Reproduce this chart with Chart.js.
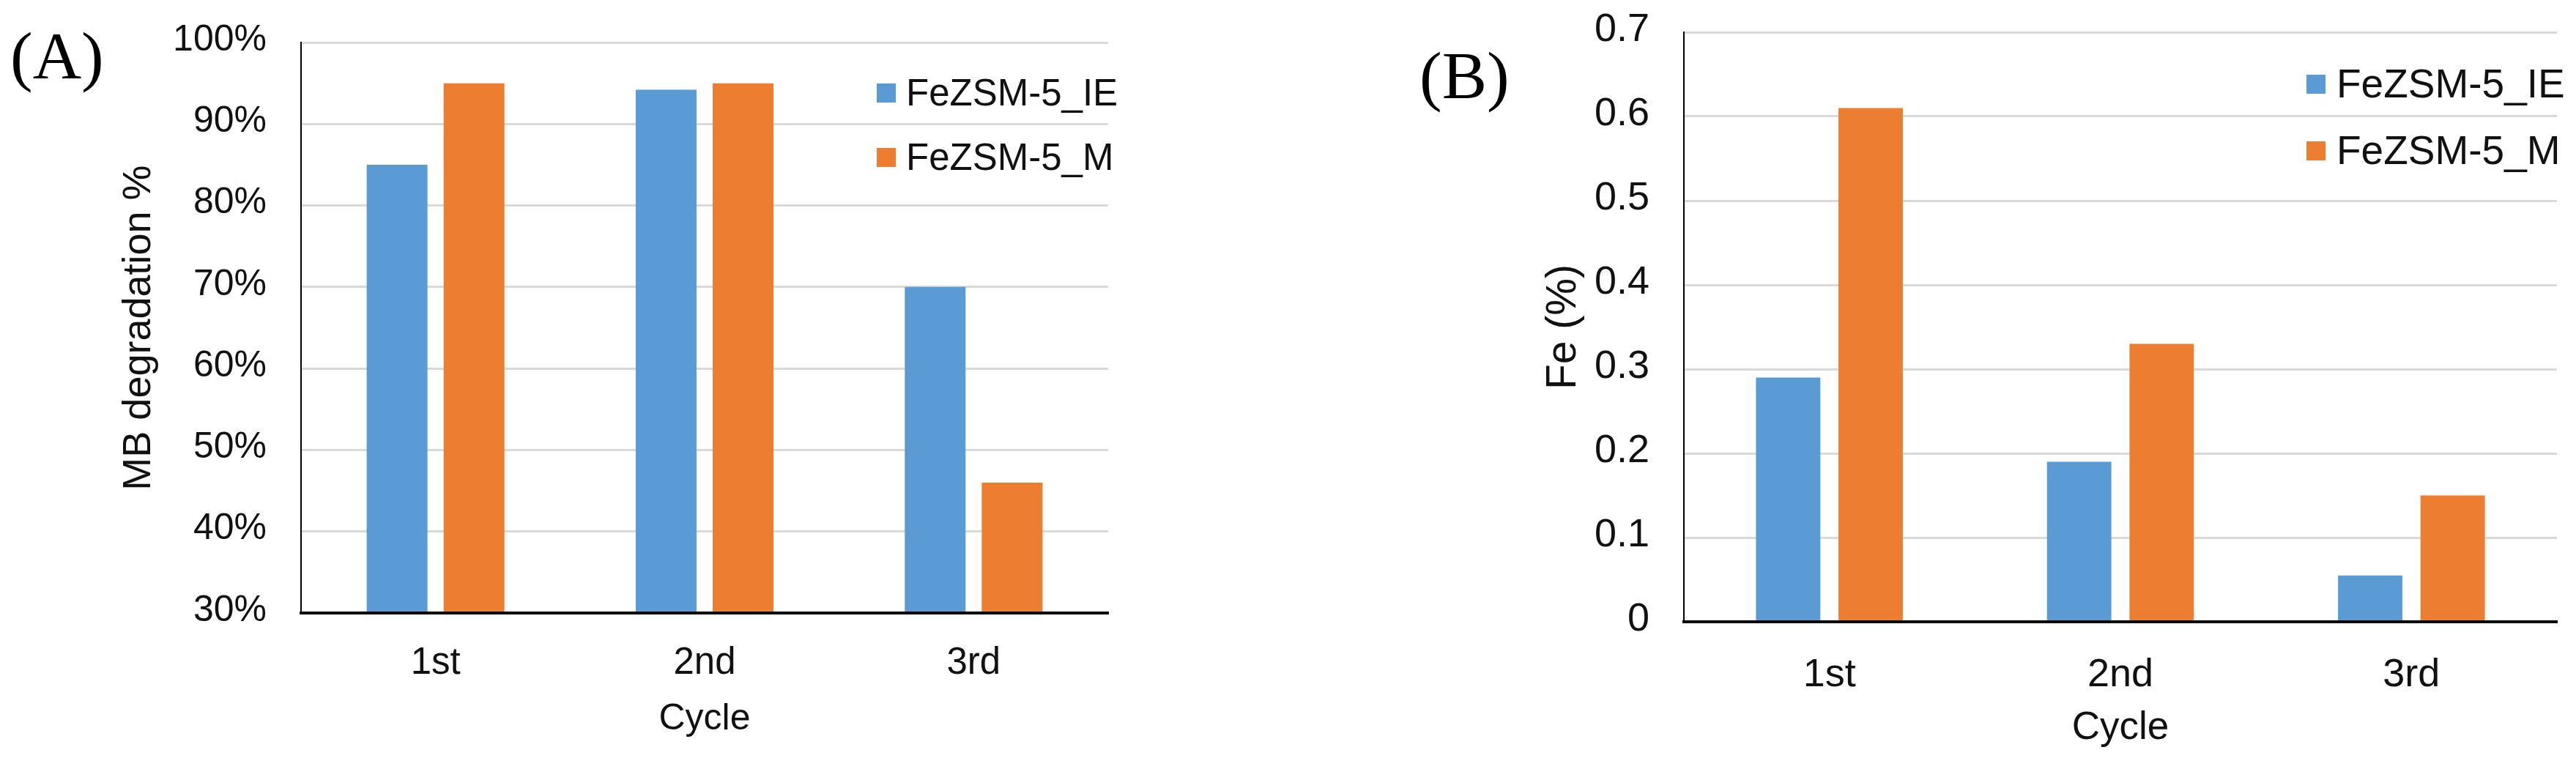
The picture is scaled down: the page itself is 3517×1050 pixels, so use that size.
<!DOCTYPE html>
<html>
<head>
<meta charset="utf-8">
<script src="https://cdn.jsdelivr.net/npm/chart.js@4.4.1/dist/chart.umd.min.js"></script>
<style>
html, body { margin: 0; padding: 0; background: #fff; }
body { width: 3517px; height: 1050px; position: relative; overflow: hidden; }
.panel { position: absolute; top: 0; height: 1050px; }
#panelA { left: 0; width: 1760px; }
#panelB { left: 1760px; width: 1757px; }
</style>
</head>
<body>
<div class="panel" id="panelA"><canvas id="chartA"></canvas></div>
<div class="panel" id="panelB"><canvas id="chartB"></canvas></div>
<script>
const cycles = ['1st', '2nd', '3rd'];
const seriesNames = ['FeZSM-5_IE', 'FeZSM-5_M'];

const degradationIE = [85, 94.2, 70];
const degradationM = [95, 95, 46];
const degradationTicks = ['30%', '40%', '50%', '60%', '70%', '80%', '90%', '100%'];

const ironIE = [0.29, 0.19, 0.055];
const ironM = [0.61, 0.33, 0.15];
const ironTicks = ['0', '0.1', '0.2', '0.3', '0.4', '0.5', '0.6', '0.7'];

const BLUE = '#5B9BD5';
const ORANGE = '#ED7D31';
const SANS = "'Liberation Sans', Arial, sans-serif";
const SERIF = "'Liberation Serif', 'Times New Roman', serif";

// panel A's axis text is visibly condensed in the original; use a narrow face when there is one
function hasFont(name) {
    const ctx = document.createElement('canvas').getContext('2d');
    const sample = '100% 1st Cycle 0.7';
    ctx.font = '40px monospace';
    const base = ctx.measureText(sample).width;
    ctx.font = `40px '${name}', monospace`;
    return ctx.measureText(sample).width !== base;
}
const hasNarrow = hasFont('Liberation Sans Narrow');
const NARROW = hasNarrow ? "'Liberation Sans Narrow', " + SANS : SANS;
const narrowSize = (size) => hasNarrow ? size : Math.round(size * 0.9);

const floatingLegend = {
    id: 'floatingLegend',
    afterDraw(chart, args, opts) {
        const ctx = chart.ctx;
        ctx.save();
        ctx.font = `${opts.size}px ${SANS}`;
        ctx.textBaseline = 'middle';
        chart.data.datasets.forEach((ds, i) => {
            const y = opts.y + i * opts.rowGap;
            ctx.fillStyle = ds.backgroundColor;
            ctx.fillRect(opts.x, y - opts.box / 2, opts.box, opts.box);
            ctx.fillStyle = '#111';
            ctx.fillText(ds.label, opts.x + opts.box + opts.gap, y + 3);
        });
        ctx.restore();
    }
};

const panelTag = {
    id: 'panelTag',
    afterDraw(chart, args, opts) {
        const ctx = chart.ctx;
        ctx.save();
        ctx.font = `${opts.size}px ${SERIF}`;
        ctx.fillStyle = '#000';
        ctx.textBaseline = 'alphabetic';
        ctx.fillText(opts.text, opts.x, opts.y);
        ctx.restore();
    }
};

function makeChart(canvasId, cfg) {
    return new Chart(document.getElementById(canvasId), {
        type: 'bar',
        data: {
            labels: cycles,
            datasets: [
                { label: seriesNames[0], data: cfg.ie, backgroundColor: BLUE },
                { label: seriesNames[1], data: cfg.m, backgroundColor: ORANGE }
            ]
        },
        options: {
            responsive: true,
            maintainAspectRatio: false,
            animation: false,
            categoryPercentage: cfg.catPct,
            barPercentage: cfg.barPct,
            layout: { padding: { left: 0, top: cfg.top, right: cfg.right, bottom: 0 } },
            plugins: {
                legend: { display: false },
                tooltip: { enabled: false },
                floatingLegend: cfg.legend,
                panelTag: cfg.tag
            },
            scales: {
                x: {
                    grid: { display: false },
                    border: { color: '#000', width: 4, z: 1 },
                    ticks: {
                        color: '#111',
                        padding: cfg.xTickPad,
                        font: { family: cfg.axisFont, size: cfg.xTickSize }
                    },
                    title: {
                        display: true,
                        text: 'Cycle',
                        color: '#111',
                        padding: { top: 0, bottom: cfg.xTitlePad },
                        font: { family: cfg.axisFont, size: cfg.xTitleSize }
                    },
                    afterFit(scale) {
                        scale.height = cfg.xHeight;
                    }
                },
                y: {
                    min: cfg.min,
                    max: cfg.max,
                    grid: { color: '#D9D9D9', lineWidth: 3, drawTicks: false },
                    border: { color: '#000', width: 2 },
                    ticks: {
                        stepSize: cfg.step,
                        color: '#111',
                        padding: 47,
                        labelOffset: -3,
                        font: { family: cfg.axisFont, size: cfg.yTickSize },
                        callback(value, index) {
                            return cfg.tickLabels[index];
                        }
                    },
                    title: {
                        display: true,
                        text: cfg.yTitle,
                        color: '#111',
                        padding: { top: cfg.yTitlePad, bottom: 0 },
                        font: { family: SANS, size: cfg.yTitleSize }
                    },
                    afterFit(scale) {
                        scale.width = cfg.yWidth;
                        scale.paddingTop = 0;
                        scale.paddingBottom = 0;
                    }
                }
            }
        },
        plugins: [floatingLegend, panelTag]
    });
}

makeChart('chartA', {
    ie: degradationIE,
    m: degradationM,
    min: 30, max: 100, step: 10,
    tickLabels: degradationTicks,
    yTitle: 'MB degradation %',
    catPct: 0.572, barPct: 0.79,
    top: 58, right: 247,
    yWidth: 411, xHeight: 213,
    axisFont: NARROW,
    yTickSize: narrowSize(56), xTickSize: narrowSize(57), xTickPad: 30,
    yTitleSize: 54, yTitlePad: 158,
    xTitleSize: narrowSize(55), xTitlePad: 38,
    legend: { x: 1197, y: 127, rowGap: 88, box: 26, gap: 14, size: 51 },
    tag: { text: '(A)', x: 14, y: 107, size: 92 }
});

makeChart('chartB', {
    ie: ironIE,
    m: ironM,
    min: 0, max: 0.7, step: 0.1,
    tickLabels: ironTicks,
    yTitle: 'Fe (%)',
    catPct: 0.567, barPct: 0.78,
    top: 44, right: 26,
    yWidth: 539, xHeight: 201,
    axisFont: SANS,
    yTickSize: 54, xTickSize: 54, xTickPad: 33,
    yTitleSize: 57, yTitlePad: 341,
    xTitleSize: 53, xTitlePad: 24,
    legend: { x: 1389, y: 115, rowGap: 91, box: 26, gap: 15, size: 55 },
    tag: { text: '(B)', x: 178, y: 134, size: 92 }
});
</script>
</body>
</html>
